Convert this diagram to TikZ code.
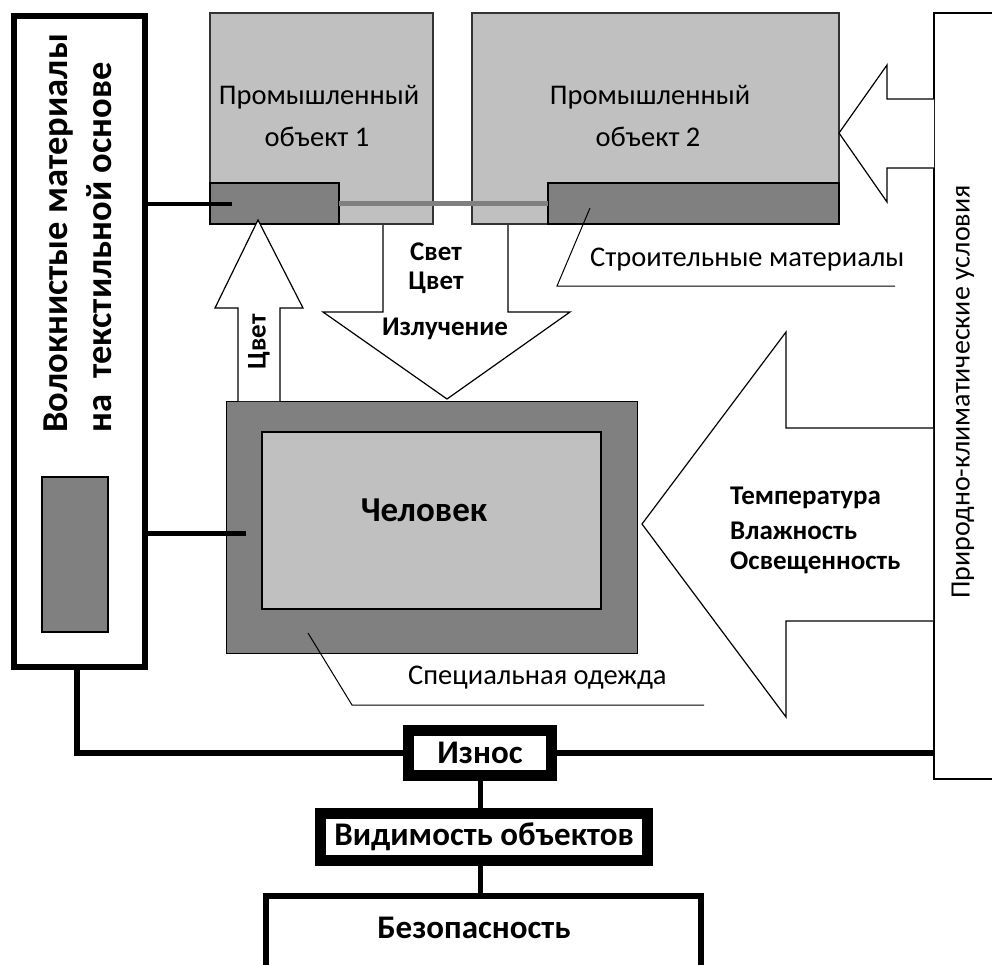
\documentclass[tikz,border=0pt]{standalone}
\usepackage{fontspec}
\setmainfont{Carlito}
\usetikzlibrary{fit}
\definecolor{lgray}{HTML}{C0C0C0}
\definecolor{dgray}{HTML}{808080}
\begin{document}
\begin{tikzpicture}[x=1pt,y=-1pt,
  box/.style={fit={#1}, inner sep=0pt, outer sep=0pt, draw=black},
  objbox/.style={fill=lgray, draw=black!80, line width=1.5pt},
  strip/.style={fill=dgray, draw=black, line width=1.5pt},
  reg/.style={font=\fontsize{28.5}{32}\selectfont, inner sep=0pt},
  bld/.style={font=\bfseries\fontsize{27}{31}\selectfont, inner sep=0pt},
  bigbld/.style={font=\bfseries\fontsize{35}{39}\selectfont, inner sep=0pt},
  vbld/.style={font=\bfseries\fontsize{36.5}{40}\selectfont, inner sep=0pt},
  botbld/.style={font=\bfseries\fontsize{33}{37}\selectfont, inner sep=0pt},
  blockarrow/.style={fill=white, draw=black, line width=1.2pt, line join=miter},
  leader/.style={draw=black, line width=1pt},
  conn/.style={draw=black, line width=5pt}
]
\useasboundingbox (0,0) rectangle (992,964);

% left box
\node[box={(14,16)(145,667)}, line width=6pt] (left) {};
\node[box={(42,477)(108,632)}, fill=dgray, line width=1.2pt] (leftinner) {};
\node[vbld, rotate=90, anchor=west] (t1) at (59,433) {Волокнистые материалы};
\node[vbld, rotate=90, anchor=west] (t2) at (99,433) {на\ \ текстильной основе};

% objects
\node[box={(210,13)(433,224)}, objbox] (obj1) {};
\node[box={(472,13)(839,224)}, objbox] (obj2) {};
\node[box={(210,183)(339,224)}, strip] (strip1) {};
\node[box={(548,183)(839,224)}, strip, line width=2.2pt] (strip2) {};
\node[reg] (o1a) at (319,97) {Промышленный};
\node[reg] (o1b) at (317,137) {объект 1};
\node[reg] (o2a) at (650,97) {Промышленный};
\node[reg] (o2b) at (648,137) {объект 2};
\draw[draw=dgray, line width=5pt] (strip1.east) -- (strip2.west);

% climate box
\node[box={(934,13)(1010,779)}, line width=1.5pt] (clim) {};
\node[reg, font=\fontsize{28}{32}\selectfont, rotate=90] (climt) at (963,392) {Природно-климатические условия};

% arrow to object 2
\draw[blockarrow] (934,99) -- (887,99) -- (887,65) -- (839,133) -- (887,202) -- (887,168) -- (934,168);

% big arrow to human
\draw[blockarrow] (933,428) -- (786,428) -- (786,332) -- (642,524) -- (786,717) -- (786,621) -- (933,621);
\node[bld, anchor=west] (temp) at (730,498) {Температура};
\node[bld, anchor=west] (hum) at (730,531) {Влажность};
\node[bld, anchor=west] (lum) at (730,563) {Освещенность};

% human
\node[box={(226,401)(637,653)}, fill=dgray, line width=1pt] (cloth) {};
\node[box={(262,432)(601,609)}, fill=lgray, line width=1.5pt] (human) {};
\node[bigbld] (humt) at (424,510) {Человек};

% up arrow
\draw[blockarrow] (238,401) -- (238,308) -- (215,308) -- (258,220) -- (303,308) -- (280,308) -- (280,401);
\node[bld, rotate=90] (cvet1) at (259,342) {Цвет};

% down arrow
\draw[blockarrow] (383,225) -- (383,312) -- (323,312) -- (447,399) -- (570,312) -- (508,312) -- (508,225);
\node[bld] (svet) at (436,252) {Свет};
\node[bld] (cvet2) at (436,283) {Цвет};
\node[bld] (izl) at (445,329) {Излучение};

% leaders
\node[reg, anchor=west] (stroi) at (590,260) {Строительные материалы};
\coordinate (sl1) at (590,208);
\coordinate (sl2) at (557,286);
\coordinate (sl3) at (895,286);
\draw[leader] (sl1) -- (sl2) -- (sl3);
\node[reg, anchor=west] (spec) at (408,678) {Специальная одежда};
\coordinate (cl1) at (308,633);
\coordinate (cl2) at (352,705);
\coordinate (cl3) at (704,705);
\draw[leader] (cl1) -- (cl2) -- (cl3);

% connectors from left box
\coordinate (c1) at (232,204);
\draw[conn, line width=4pt] (left.east |- c1) -- (c1);
\coordinate (c2) at (246,533);
\draw[conn] (left.east |- c2) -- (c2);

% bottom chain
\node[box={(408.5,730.5)(551.5,775.5)}, line width=11pt] (iznos) {};
\node[botbld] at (iznos.center) {Износ};
\node[box={(320.5,813.5)(647.5,860.5)}, line width=11pt] (vid) {};
\node[botbld] at (vid.center) {Видимость объектов};
\node[box={(266,896)(701,1010)}, line width=6pt] (bez) {};
\node[botbld] (bezt) at (474,928) {Безопасность};

\draw[conn, line width=6pt] (left.south -| 77,0) |- (iznos.west);
\draw[conn, line width=6pt] (iznos.east) -- (clim.west |- iznos.east);
\draw[conn] (iznos.south -| 480,0) -- (vid.north -| 480,0);
\draw[conn] (vid.south -| 480,0) -- (bez.north -| 480,0);
\end{tikzpicture}
\end{document}
